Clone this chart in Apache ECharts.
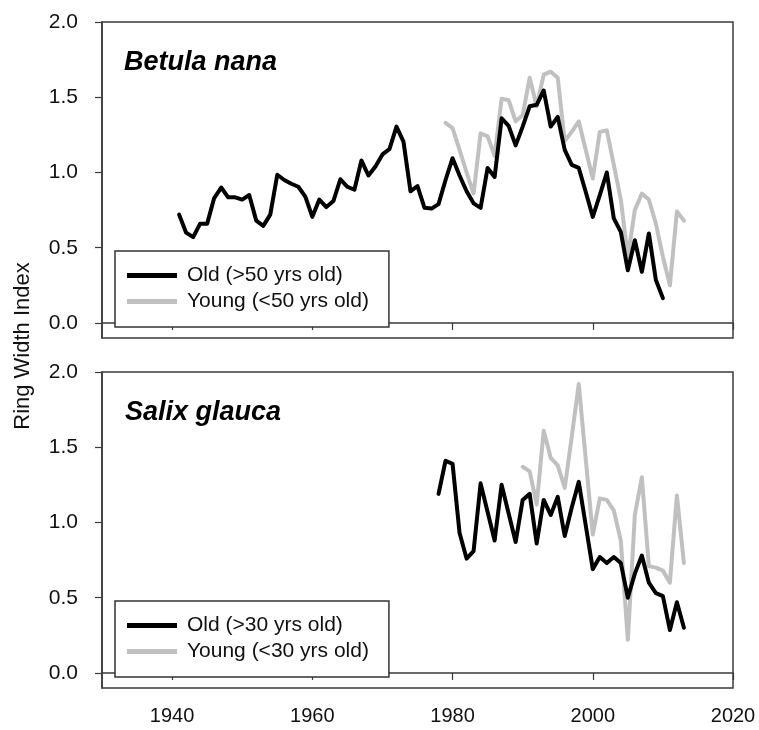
<!DOCTYPE html>
<html>
<head>
<meta charset="utf-8">
<script src="https://cdn.jsdelivr.net/npm/echarts@6/dist/echarts.min.js"></script>
<style>
html,body{margin:0;padding:0;background:#fff;}
#chart{width:759px;height:730px;}
</style>
</head>
<body>
<div id="chart"></div>
<script>
// ---- Data ----
const xTicks = [1940, 1960, 1980, 2000, 2020];
const yTicks = [0, 0.5, 1.0, 1.5, 2.0];

const betulaOldName = 'Old (>50 yrs old)';
const betulaYoungName = 'Young (<50 yrs old)';
const salixOldName = 'Old (>30 yrs old)';
const salixYoungName = 'Young (<30 yrs old)';

const betulaOldYears = [1941,1942,1943,1944,1945,1946,1947,1948,1949,1950,
  1951,1952,1953,1954,1955,1956,1957,1958,1959,1960,
  1961,1962,1963,1964,1965,1966,1967,1968,1969,1970,
  1971,1972,1973,1974,1975,1976,1977,1978,1979,1980,
  1981,1982,1983,1984,1985,1986,1987,1988,1989,1990,
  1991,1992,1993,1994,1995,1996,1997,1998,1999,2000,
  2001,2002,2003,2004,2005,2006,2007,2008,2009,2010];
const betulaOld = [0.72,0.60,0.57,0.66,0.66,0.83,0.90,0.835,0.835,0.82,
  0.85,0.68,0.645,0.72,0.985,0.95,0.925,0.905,0.84,0.705,
  0.82,0.77,0.81,0.955,0.905,0.885,1.08,0.98,1.04,1.12,
  1.155,1.305,1.205,0.875,0.91,0.765,0.76,0.79,0.95,1.095,
  0.98,0.875,0.795,0.765,1.03,0.97,1.36,1.31,1.18,1.305,
  1.44,1.45,1.545,1.305,1.37,1.15,1.05,1.03,0.87,0.705,
  0.85,1.00,0.695,0.605,0.35,0.55,0.34,0.595,0.285,0.165];

const betulaYoungYears = [1979,1980,1981,1982,1983,1984,1985,1986,1987,1988,
  1989,1990,1991,1992,1993,1994,1995,1996,1997,1998,
  1999,2000,2001,2002,2003,2004,2005,2006,2007,2008,
  2009,2010,2011,2012,2013];
const betulaYoung = [1.33,1.295,1.15,1.00,0.86,1.26,1.24,1.11,1.49,1.48,
  1.34,1.38,1.63,1.44,1.65,1.67,1.63,1.21,1.27,1.34,
  1.15,0.96,1.27,1.28,1.05,0.82,0.44,0.75,0.86,0.82,
  0.66,0.44,0.25,0.74,0.68];

const salixOldYears = [1978,1979,1980,1981,1982,1983,1984,1985,1986,1987,
  1988,1989,1990,1991,1992,1993,1994,1995,1996,1997,
  1998,1999,2000,2001,2002,2003,2004,2005,2006,2007,
  2008,2009,2010,2011,2012,2013];
const salixOld = [1.19,1.41,1.39,0.93,0.76,0.81,1.26,1.07,0.88,1.25,
  1.06,0.87,1.15,1.19,0.86,1.15,1.05,1.17,0.91,1.10,
  1.27,0.98,0.69,0.77,0.73,0.77,0.73,0.50,0.66,0.78,
  0.60,0.53,0.51,0.285,0.47,0.30];

const salixYoungYears = [1990,1991,1992,1993,1994,1995,1996,1997,1998,1999,
  2000,2001,2002,2003,2004,2005,2006,2007,2008,2009,
  2010,2011,2012,2013];
const salixYoung = [1.37,1.34,1.12,1.61,1.43,1.38,1.23,1.57,1.92,1.42,
  0.92,1.16,1.15,1.08,0.88,0.22,1.05,1.30,0.71,0.70,
  0.68,0.60,1.18,0.73];

// ---- Helpers ----
const FONT = '"Liberation Sans", Arial, sans-serif';
const AXIS_COLOR = '#3a3a3a';
const OLD_COLOR = '#000000';
const YOUNG_COLOR = '#c0c0c0';
function pairs(xs, ys) { return xs.map((x, i) => [x, ys[i]]); }

function xAxisFor(gridIndex, showLabels) {
  return {
    type: 'value', gridIndex: gridIndex, min: 1930, max: 2020,
    axisLine: { show: true, lineStyle: { color: AXIS_COLOR, width: 1.5 } },
    axisTick: { show: true, customValues: xTicks, length: 7, lineStyle: { color: AXIS_COLOR, width: 1.2 } },
    axisLabel: { show: showLabels, customValues: xTicks, margin: 18, fontSize: 20, fontFamily: FONT, color: '#111',
      formatter: v => String(Math.round(v)) },
    splitLine: { show: false }
  };
}
function yAxisFor(gridIndex) {
  return {
    type: 'value', gridIndex: gridIndex, min: -0.1, max: 2.0,
    axisLine: { show: true, lineStyle: { color: AXIS_COLOR, width: 1.5 } },
    axisTick: { show: true, customValues: yTicks, length: 7, lineStyle: { color: AXIS_COLOR, width: 1.2 } },
    axisLabel: { customValues: yTicks, margin: 24, fontSize: 21, fontFamily: FONT, color: '#111',
      formatter: v => Number(v).toFixed(1) },
    splitLine: { show: false }
  };
}
function lineSeries(name, xi, yi, data, color, z) {
  return {
    type: 'line', name: name, xAxisIndex: xi, yAxisIndex: yi, data: data,
    showSymbol: false, symbol: 'none', color: color, z: z,
    lineStyle: { color: color, width: 4, join: 'round', cap: 'round' },
    emphasis: { disabled: true }, animation: false
  };
}
function legendFor(names, top) {
  return {
    data: names, orient: 'vertical', left: 115, top: top,
    padding: [14, 20, 15, 12], itemGap: 5, itemWidth: 50, itemHeight: 5,
    icon: 'rect', selectedMode: false,
    borderColor: '#333', borderWidth: 1.5, backgroundColor: '#fff',
    textStyle: { fontSize: 21, lineHeight: 21, fontFamily: FONT, color: '#111', padding: [0, 0, 0, 5] }
  };
}

const chart = echarts.init(document.getElementById('chart'), null, { renderer: 'canvas' });
chart.setOption({
  animation: false,
  backgroundColor: '#fff',
  title: [
    { text: 'Betula nana', left: 124, top: 49, padding: 0,
      textStyle: { fontSize: 27, lineHeight: 28, fontWeight: 'bold', fontStyle: 'italic', fontFamily: FONT, color: '#000' } },
    { text: 'Salix glauca', left: 125, top: 399, padding: 0,
      textStyle: { fontSize: 27, lineHeight: 28, fontWeight: 'bold', fontStyle: 'italic', fontFamily: FONT, color: '#000' } }
  ],
  grid: [
    { left: 102, top: 22, width: 631, height: 316, show: true, borderColor: AXIS_COLOR, borderWidth: 1.5, backgroundColor: 'transparent' },
    { left: 102, top: 372, width: 631, height: 316, show: true, borderColor: AXIS_COLOR, borderWidth: 1.5, backgroundColor: 'transparent' },
    { left: 102, top: 13, width: 631, height: 666, show: false }
  ],
  xAxis: [
    xAxisFor(0, false),
    xAxisFor(1, true),
    { type: 'value', gridIndex: 2, min: 0, max: 1, show: false }
  ],
  yAxis: [
    yAxisFor(0),
    yAxisFor(1),
    { type: 'value', gridIndex: 2, min: 0, max: 1,
      name: 'Ring Width Index', nameLocation: 'middle', nameGap: 68,
      nameTextStyle: { fontSize: 22, fontFamily: FONT, color: '#111' },
      axisLine: { show: false }, axisTick: { show: false }, axisLabel: { show: false }, splitLine: { show: false } }
  ],
  legend: [
    legendFor([betulaOldName, betulaYoungName], 251),
    legendFor([salixOldName, salixYoungName], 601)
  ],
  series: [
    lineSeries(betulaYoungName, 0, 0, pairs(betulaYoungYears, betulaYoung), YOUNG_COLOR, 2),
    lineSeries(betulaOldName, 0, 0, pairs(betulaOldYears, betulaOld), OLD_COLOR, 3),
    lineSeries(salixYoungName, 1, 1, pairs(salixYoungYears, salixYoung), YOUNG_COLOR, 2),
    lineSeries(salixOldName, 1, 1, pairs(salixOldYears, salixOld), OLD_COLOR, 3)
  ]
});
</script>
</body>
</html>
